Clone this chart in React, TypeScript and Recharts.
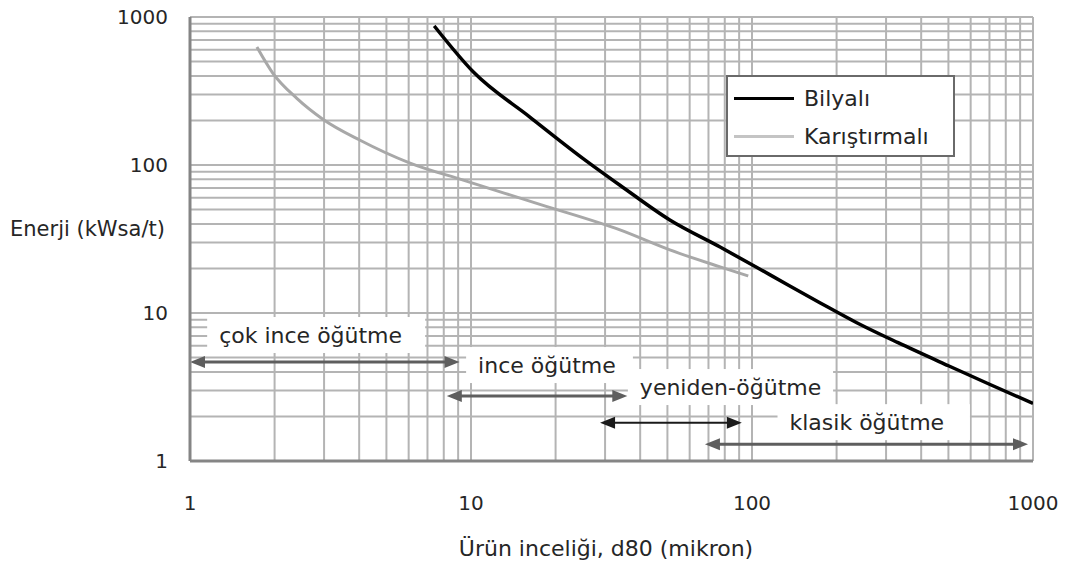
import {
  CartesianGrid,
  Legend,
  Line,
  LineChart,
  ReferenceDot,
  ReferenceLine,
  XAxis,
  YAxis,
} from "recharts";

// energy (kWsa/t) vs product fineness d80 (micron)
const bilyaliX = [7.4, 10.2, 16.2, 25, 33.9, 51, 77, 116, 175, 236, 331, 500, 700, 1000];
const bilyaliY = [870, 425, 211, 111, 73, 42.5, 27.9, 18.1, 11.7, 8.6, 6.3, 4.4, 3.3, 2.45];

const karistirmaliX = [1.73, 1.97, 2.4, 2.97, 4.03, 6.07, 9.38, 17.7, 33.9, 51, 77, 97];
const karistirmaliY = [627, 418, 282, 204, 147, 103, 79, 54, 36.4, 26.7, 20.5, 17.8];

const decadeTicks = [1, 10, 100, 1000];
const gridSteps = [1, 2, 3, 4, 5, 6, 7, 8, 9];

// grinding ranges: arrow span and level, label anchor
const rangeLabels = ["çok ince öğütme", "ince öğütme", "yeniden-öğütme", "klasik öğütme"];
const rangeFrom = [1, 8.2, 28.8, 68];
const rangeTo = [9.1, 36, 92, 960];
const rangeLevel = [4.67, 2.75, 1.81, 1.3];
const labelX = [1.27, 10.6, 39.9, 136];
const labelY = [7.1, 4.45, 3.16, 1.83];

const FONT = '"DejaVu Sans", sans-serif';
const TEXT = "#262626";

const bilyali = bilyaliX.map((x, i) => ({ x, y: bilyaliY[i] }));
const karistirmali = karistirmaliX.map((x, i) => ({ x, y: karistirmaliY[i] }));

const gridTicks = decadeTicks
  .slice(0, -1)
  .flatMap((d) => gridSteps.map((s) => d * s))
  .concat(decadeTicks[decadeTicks.length - 1]);

const fmt = (v: number) => (decadeTicks.includes(v) ? String(v) : "");

function makeArrow(color: string, width: number) {
  return (p: any) => {
    const { x1, y1, x2, y2 } = p;
    const h = 15;
    const w = 6;
    return (
      <g>
        <line x1={x1 + 6} y1={y1} x2={x2 - 6} y2={y2} stroke={color} strokeWidth={width} />
        <polygon points={`${x1},${y1} ${x1 + h},${y1 - w} ${x1 + h},${y1 + w}`} fill={color} />
        <polygon points={`${x2},${y2} ${x2 - h},${y2 - w} ${x2 - h},${y2 + w}`} fill={color} />
      </g>
    );
  };
}

function makeLabel(text: string) {
  return (p: any) => {
    const { cx, cy } = p;
    const w = text.length * 12.8 + 26;
    return (
      <g>
        <rect x={cx - 12} y={cy - 18} width={w} height={36} fill="#fff" />
        <text
          x={cx}
          y={cy}
          dy="0.35em"
          fontSize={22}
          fontFamily={FONT}
          fill={TEXT}
        >
          {text}
        </text>
      </g>
    );
  };
}

function LegendBox() {
  const row = (label: string, color: string) => (
    <div style={{ display: "flex", alignItems: "center", height: 38 }}>
      <span
        style={{
          display: "inline-block",
          width: 60,
          height: 3,
          background: color,
          marginLeft: 6,
          marginRight: 10,
        }}
      />
      <span style={{ fontSize: 22, color: TEXT }}>{label}</span>
    </div>
  );
  return (
    <div
      style={{
        boxSizing: "border-box",
        width: 229,
        height: 82,
        border: "2px solid #6a6a6a",
        background: "#fff",
        fontFamily: FONT,
        paddingTop: 2,
      }}
    >
      {row("Bilyalı", "#000")}
      {row("Karıştırmalı", "#c4c4c4")}
    </div>
  );
}

export default function App() {
  return (
    <div style={{ position: "absolute", left: 0, top: 0, width: 1067, height: 565, background: "#fff" }}>
      <LineChart
        width={1067}
        height={565}
        margin={{ top: 17, right: 34, left: 0, bottom: 0 }}
        style={{ fontFamily: FONT }}
      >
        <CartesianGrid stroke="#b4b4b4" strokeWidth={2} />
        <XAxis
          dataKey="x"
          type="number"
          scale="log"
          domain={[1, 1000]}
          ticks={gridTicks}
          tickFormatter={fmt}
          allowDataOverflow
          height={104}
          tickSize={0}
          tickMargin={35}
          axisLine={{ stroke: "#858585", strokeWidth: 3 }}
          tick={{ fontSize: 20, fill: TEXT }}
          interval={0}
          label={{
            content: () => (
              <text x={606} y={548} dy="0.35em" textAnchor="middle" fontSize={22} fontFamily={FONT} fill={TEXT}>
                Ürün inceliği, d80 (mikron)
              </text>
            ),
          }}
        />
        <YAxis
          dataKey="y"
          type="number"
          scale="log"
          domain={[1, 1000]}
          ticks={gridTicks}
          tickFormatter={fmt}
          allowDataOverflow
          width={190}
          tickSize={0}
          tickMargin={22}
          axisLine={{ stroke: "#858585", strokeWidth: 3 }}
          tick={{ fontSize: 20, fill: TEXT }}
          interval={0}
          label={{
            content: () => (
              <text x={10} y={229} dy="0.35em" fontSize={21} fontFamily={FONT} fill={TEXT}>
                Enerji (kWsa/t)
              </text>
            ),
          }}
        />
        <Legend
          layout="vertical"
          align="center"
          verticalAlign="middle"
          wrapperStyle={{ left: 726, top: 75, width: 229, height: 82 }}
          content={() => <LegendBox />}
        />
        {rangeLabels.map((label, i) => (
          <ReferenceLine
            key={label}
            segment={[
              { x: rangeFrom[i], y: rangeLevel[i] },
              { x: rangeTo[i], y: rangeLevel[i] },
            ]}
            shape={i === 2 ? makeArrow("#1a1a1a", 2) : makeArrow("#5e5e5e", 3)}
          />
        ))}
        {rangeLabels.map((label, i) => (
          <ReferenceDot
            key={label + "-t"}
            x={labelX[i]}
            y={labelY[i]}
            shape={makeLabel(label)}
          />
        ))}
        <Line
          name="Karıştırmalı"
          data={karistirmali}
          dataKey="y"
          stroke="#a8a8a8"
          strokeWidth={3}
          dot={false}
          type="monotone"
          isAnimationActive={false}
        />
        <Line
          name="Bilyalı"
          data={bilyali}
          dataKey="y"
          stroke="#000"
          strokeWidth={3.5}
          dot={false}
          type="monotone"
          isAnimationActive={false}
        />
      </LineChart>
    </div>
  );
}
